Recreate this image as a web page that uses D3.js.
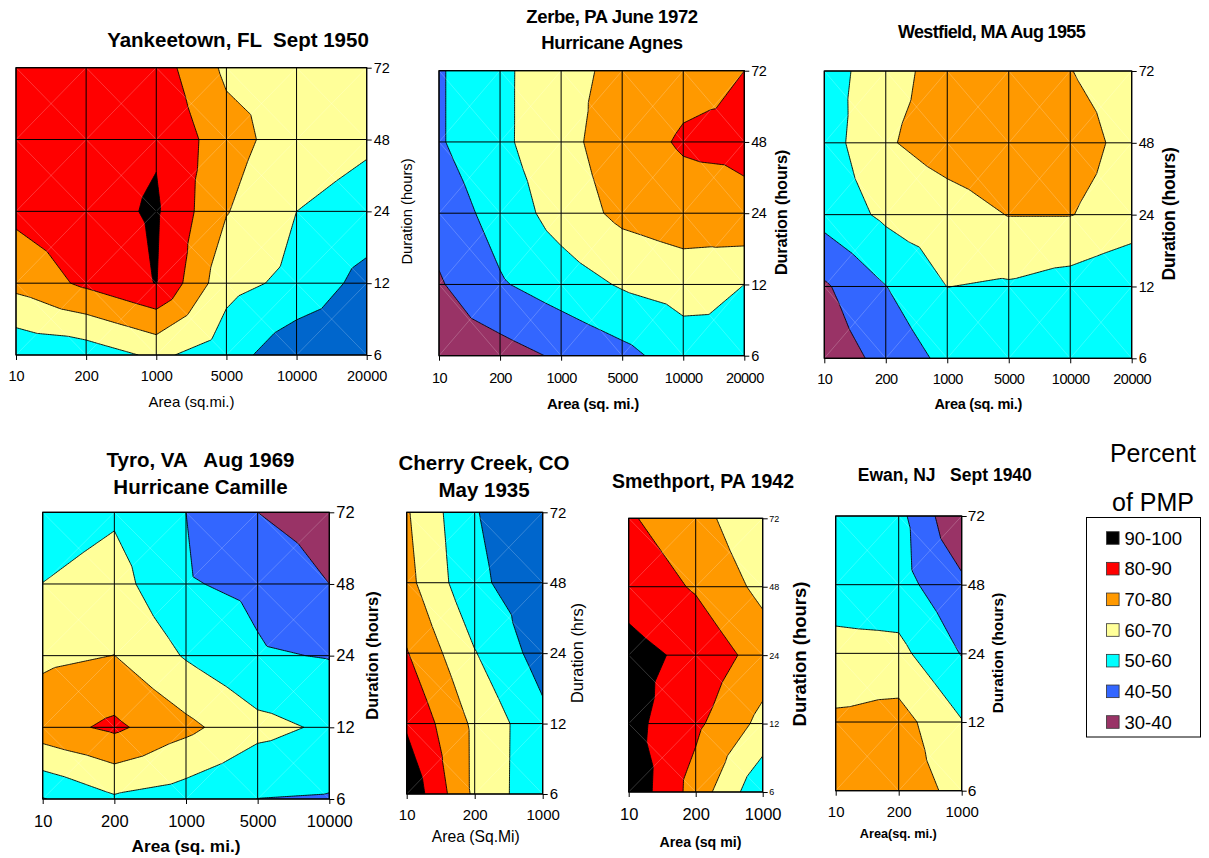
<!DOCTYPE html>
<html>
<head>
<meta charset="utf-8">
<script src="https://cdn.jsdelivr.net/npm/d3@7"></script>
<style>
body { margin: 0; background: #fff; }
text { font-family: "Liberation Sans", Arial, sans-serif; fill: #000; white-space: pre; }
</style>
</head>
<body>
<script>
// ---- data (percent of PMP at each area / duration grid point) ----
var durations = ["6", "12", "24", "48", "72"];
var areasLarge = ["10", "200", "1000", "5000", "10000", "20000"];
var areasTyro = ["10", "200", "1000", "5000", "10000"];
var areasSmall = ["10", "200", "1000"];
var thresholds = [30, 40, 50, 60, 70, 80, 90];
var legendLabels = ["90-100", "80-90", "70-80", "60-70", "50-60", "40-50", "30-40"];

// rows go 6h, 12h, 24h, 48h, 72h
var yankeetownPct = [
  [52, 54.2, 62, 54.5, 42.7, 41],
  [73, 82, 90.3, 63, 57.6, 46.3],
  [82.3, 86.4, 91.2, 70.5, 60, 56.6],
  [84, 86, 89, 74.2, 64.4, 61.3],
  [85, 86, 85, 68, 66, 64]
];
var zerbePct = [
  [34, 36, 41.5, 47, 55, 58],
  [39, 49, 55, 61, 64, 60],
  [44, 54, 64.2, 72.5, 76, 78.5],
  [49, 58, 66.5, 76, 81, 81.4],
  [49, 58, 66.3, 73, 77.2, 80]
];
var westfieldPct = [
  [34, 43, 52.7, 54, 54, 52],
  [38.7, 49.8, 60.1, 58.9, 55.9, 51],
  [53.7, 62, 65.7, 70.3, 70.3, 66],
  [55.2, 69, 74.3, 77, 74, 67.1],
  [55.4, 66, 74.3, 76, 70.2, 66]
];
var tyroPct = [
  [49.5, 58.5, 55, 49.9, 49.2],
  [76, 82, 72.5, 62.9, 58.4],
  [68, 70.1, 59.1, 51, 49.5],
  [60.1, 64, 50.7, 48, 40],
  [55, 58.6, 50, 40, 35]
];
var cherryCreekPct = [
  [98, 68, 52.3],
  [88.7, 67.9, 52.7],
  [80.6, 60.5, 45.7],
  [73, 52, 44],
  [71, 50.5, 43]
];
var smethportPct = [
  [97.6, 75.9, 52],
  [93.2, 82.1, 67.2],
  [93.5, 87.3, 75.7],
  [86, 79, 67.2],
  [81, 74, 61.1]
];
var ewanPct = [
  [75, 76, 66.6],
  [71.7, 73.9, 60.5],
  [63.3, 62.7, 49.5],
  [55, 53.7, 42.2],
  [55, 53, 30.5]
];

// colours for the bands 30-40 ... 90-100
var bandColors = ["#993366", "#3366FF", "#00FFFF", "#FFFF99", "#FF9900", "#FF0000", "#000000"];
var darkBlue = "#0066CC";

var svg = d3.select("body").append("svg")
  .attr("width", 1209)
  .attr("height", 858);

// value inside a cell, Excel style: each cell cut in 4 triangles round its centre
function triValue(g, u, v) {
  var nx = g[0].length, ny = g.length;
  var ci = Math.min(Math.floor(u), nx - 2), ri = Math.min(Math.floor(v), ny - 2);
  var fx = u - ci, fy = v - ri;
  var a = g[ri][ci], b = g[ri][ci + 1], c = g[ri + 1][ci + 1], d = g[ri + 1][ci];
  var m = (a + b + c + d) / 4;
  if (fy <= fx && fy <= 1 - fx) return a * (1 - fx - fy) + b * (fx - fy) + m * 2 * fy;
  if (fy >= fx && fy >= 1 - fx) return d * (fy - fx) + c * (fx + fy - 1) + m * 2 * (1 - fy);
  if (fx <= fy && fx <= 1 - fy) return a * (1 - fy - fx) + d * (fy - fx) + m * 2 * fx;
  return b * (fx - fy) + c * (fx + fy - 1) + m * 2 * (1 - fx);
}

function addText(parent, s, x, y, size, bold, opts) {
  opts = opts || {};
  var t = parent.append("text")
    .attr("x", x).attr("y", y)
    .attr("text-anchor", "middle")
    .attr("font-size", size)
    .attr("font-weight", bold ? "bold" : "normal")
    .attr("letter-spacing", opts.ls || 0)
    .text(s);
  if (opts.rotate) t.attr("transform", "rotate(-90," + x + "," + y + ")");
  return t;
}

var panelCount = 0;
function drawPanel(p) {
  panelCount++;
  var g = svg.append("g");
  var x = d3.scalePoint().domain(p.areas).range([p.x0, p.x1]);
  var y = d3.scalePoint().domain(durations).range([p.y1, p.y0]);

  var nx = p.areas.length, ny = durations.length, S = 40;
  var fx = (nx - 1) * S + 1, fy = (ny - 1) * S + 1;
  var grid = durations.map(function(d, i) { return p.pct[ny - 1 - i]; });
  var vals = new Array(fx * fy);
  for (var j = 0; j < fy; j++)
    for (var i = 0; i < fx; i++)
      vals[j * fx + i] = triValue(grid, i / S, j / S);

  var xs = d3.scaleLinear().domain([0.5, fx - 0.5]).range([p.x0, p.x1]);
  var ys = d3.scaleLinear().domain([0.5, fy - 0.5]).range([p.y0, p.y1]);
  var path = d3.geoPath(d3.geoTransform({
    point: function(a, b) { this.stream.point(xs(a), ys(b)); }
  }));
  var colors = bandColors.slice();
  if (p.blue) colors[1] = p.blue;

  var clipId = "clip" + panelCount;
  g.append("clipPath").attr("id", clipId).append("rect")
    .attr("x", p.x0).attr("y", p.y0)
    .attr("width", p.x1 - p.x0).attr("height", p.y1 - p.y0);

  var plot = g.append("g").attr("clip-path", "url(#" + clipId + ")");
  plot.append("rect")
    .attr("x", p.x0).attr("y", p.y0)
    .attr("width", p.x1 - p.x0).attr("height", p.y1 - p.y0)
    .attr("fill", colors[0]);

  var bands = d3.contours().size([fx, fy]).thresholds(thresholds)(vals);
  plot.selectAll("path.band")
    .data(bands)
    .join("path")
    .attr("class", "band")
    .attr("d", path)
    .attr("fill", function(d) { return colors[thresholds.indexOf(d.value)]; })
    .attr("stroke", "#000")
    .attr("stroke-width", 0.9)
    .attr("stroke-linejoin", "round");

  // faint diagonals of every cell
  var cells = [];
  for (var ci = 0; ci < nx - 1; ci++)
    for (var ri = 0; ri < ny - 1; ri++)
      cells.push([p.areas[ci], p.areas[ci + 1], durations[ri], durations[ri + 1]]);
  plot.selectAll("line.diag1").data(cells).join("line")
    .attr("x1", function(d) { return x(d[0]); }).attr("y1", function(d) { return y(d[2]); })
    .attr("x2", function(d) { return x(d[1]); }).attr("y2", function(d) { return y(d[3]); })
    .attr("stroke", "#fff").attr("stroke-opacity", 0.35).attr("stroke-width", 0.6);
  plot.selectAll("line.diag2").data(cells).join("line")
    .attr("x1", function(d) { return x(d[0]); }).attr("y1", function(d) { return y(d[3]); })
    .attr("x2", function(d) { return x(d[1]); }).attr("y2", function(d) { return y(d[2]); })
    .attr("stroke", "#fff").attr("stroke-opacity", 0.35).attr("stroke-width", 0.6);

  // grid lines
  g.selectAll("line.vgrid").data(p.areas).join("line")
    .attr("x1", function(d) { return x(d); }).attr("x2", function(d) { return x(d); })
    .attr("y1", p.y0).attr("y2", p.y1)
    .attr("stroke", "#000").attr("stroke-width", 1);
  g.selectAll("line.hgrid").data(durations).join("line")
    .attr("y1", function(d) { return y(d); }).attr("y2", function(d) { return y(d); })
    .attr("x1", p.x0).attr("x2", p.x1)
    .attr("stroke", "#000").attr("stroke-width", 1);
  g.append("rect")
    .attr("x", p.x0).attr("y", p.y0)
    .attr("width", p.x1 - p.x0).attr("height", p.y1 - p.y0)
    .attr("fill", "none").attr("stroke", "#000").attr("stroke-width", 1.2);

  // axes
  var xa = g.append("g").attr("transform", "translate(0," + p.y1 + ")")
    .call(d3.axisBottom(x).tickSize(5).tickPadding(p.xPad));
  xa.select(".domain").remove();
  xa.attr("font-family", null).attr("font-size", p.xFont);
  xa.selectAll("text").attr("letter-spacing", p.tickLs || 0);
  var ya = g.append("g").attr("transform", "translate(" + p.x1 + ",0)")
    .call(d3.axisRight(y).tickSize(5).tickPadding(p.yPad));
  ya.select(".domain").remove();
  ya.attr("font-family", null).attr("font-size", p.yFont);
  ya.selectAll("text").attr("letter-spacing", p.tickLs || 0);

  // titles
  p.title.forEach(function(t, k) {
    addText(g, t, p.titleX, p.titleY[k], p.titleSize, true, { ls: p.titleLs });
  });
  addText(g, p.xTitle, p.xTitleX, p.xTitleY, p.xTitleSize, p.axisBold, { ls: p.axisLs });
  addText(g, p.yTitle, p.yTitleX, p.yTitleY, p.yTitleSize, p.axisBold, { ls: p.axisLs, rotate: true });
}

drawPanel({
  pct: yankeetownPct, areas: areasLarge, blue: darkBlue,
  x0: 16, x1: 366.7, y0: 67.7, y1: 355,
  xFont: 14.5, yFont: 14.5, xPad: 11.2, yPad: 2,
  title: ["Yankeetown, FL  Sept 1950"], titleX: 238, titleY: [47], titleSize: 20.5,
  xTitle: "Area (sq.mi.)", xTitleX: 191.5, xTitleY: 406.5, xTitleSize: 15,
  yTitle: "Duration (hours)", yTitleX: 412, yTitleY: 211.5, yTitleSize: 14.7, axisBold: false
});
drawPanel({
  pct: zerbePct, areas: areasLarge,
  x0: 439, x1: 744.3, y0: 70.7, y1: 355.7,
  xFont: 14.5, yFont: 14.5, xPad: 12.2, yPad: 2, tickLs: -0.5,
  title: ["Zerbe, PA June 1972", "Hurricane Agnes"], titleX: 612, titleY: [22.7, 49.3], titleSize: 18.5, titleLs: -0.4,
  xTitle: "Area (sq. mi.)", xTitleX: 593, xTitleY: 409, xTitleSize: 15,
  yTitle: "Duration (hours)", yTitleX: 787, yTitleY: 212.5, yTitleSize: 16.4, axisBold: true, axisLs: -0.2
});
drawPanel({
  pct: westfieldPct, areas: areasLarge,
  x0: 824.3, x1: 1131.7, y0: 71, y1: 358.3,
  xFont: 14.5, yFont: 14.5, xPad: 10.4, yPad: 2, tickLs: -0.5,
  title: ["Westfield, MA Aug 1955"], titleX: 991.5, titleY: [38.3], titleSize: 18, titleLs: -0.65,
  xTitle: "Area (sq. mi.)", xTitleX: 978.3, xTitleY: 409.3, xTitleSize: 14.5, axisLs: -0.3,
  yTitle: "Duration (hours)", yTitleX: 1175, yTitleY: 214, yTitleSize: 17.6, axisBold: true
});
drawPanel({
  pct: tyroPct, areas: areasTyro,
  x0: 42.7, x1: 329.3, y0: 512.3, y1: 799,
  xFont: 16.5, yFont: 16.5, xPad: 11.3, yPad: 2,
  title: ["Tyro, VA   Aug 1969", "Hurricane Camille"], titleX: 200.5, titleY: [467.3, 494.3], titleSize: 20.5,
  xTitle: "Area (sq. mi.)", xTitleX: 186, xTitleY: 851.7, xTitleSize: 17.2,
  yTitle: "Duration (hours)", yTitleX: 378, yTitleY: 655.5, yTitleSize: 16.4, axisBold: true
});
drawPanel({
  pct: cherryCreekPct, areas: areasSmall, blue: darkBlue,
  x0: 406.7, x1: 542.7, y0: 512.3, y1: 794,
  xFont: 15, yFont: 15, xPad: 10.3, yPad: 2,
  title: ["Cherry Creek, CO", "May 1935"], titleX: 484, titleY: [470, 496.7], titleSize: 20.5,
  xTitle: "Area (Sq.Mi)", xTitleX: 475.8, xTitleY: 841.7, xTitleSize: 15.7,
  yTitle: "Duration (hrs)", yTitleX: 583, yTitleY: 653, yTitleSize: 16.4, axisBold: false
});
drawPanel({
  pct: smethportPct, areas: areasSmall,
  x0: 628.7, x1: 762.7, y0: 518.3, y1: 792,
  xFont: 16.5, yFont: 9, xPad: 11.3, yPad: 1.5,
  title: ["Smethport, PA 1942"], titleX: 703, titleY: [488.3], titleSize: 19.5,
  xTitle: "Area (sq mi)", xTitleX: 700.5, xTitleY: 846.7, xTitleSize: 14.2,
  yTitle: "Duration (hours)", yTitleX: 806, yTitleY: 654, yTitleSize: 18.5, axisBold: true
});
drawPanel({
  pct: ewanPct, areas: areasSmall,
  x0: 835.7, x1: 961.7, y0: 516, y1: 790.7,
  xFont: 15, yFont: 15.5, xPad: 10.6, yPad: 1,
  title: ["Ewan, NJ   Sept 1940"], titleX: 944.8, titleY: [481], titleSize: 17.5,
  xTitle: "Area(sq. mi.)", xTitleX: 898.3, xTitleY: 838, xTitleSize: 12.7,
  yTitle: "Duration (hours)", yTitleX: 1003, yTitleY: 653, yTitleSize: 15.4, axisBold: true
});

// legend
var legend = svg.append("g");
addText(legend, "Percent", 1153, 462, 25, false);
addText(legend, "of PMP", 1153, 511, 25, false);
legend.append("rect")
  .attr("x", 1086.5).attr("y", 517.5).attr("width", 114).attr("height", 219.5)
  .attr("fill", "#fff").attr("stroke", "#000").attr("stroke-width", 1);
var ly = d3.scalePoint().domain(legendLabels).range([538, 722]);
var items = legend.selectAll("g.item").data(legendLabels).join("g")
  .attr("class", "item")
  .attr("transform", function(d) { return "translate(0," + ly(d) + ")"; });
items.append("rect")
  .attr("x", 1106.5).attr("y", -6.3).attr("width", 12.6).attr("height", 12.6)
  .attr("fill", function(d, i) { return bandColors[bandColors.length - 1 - i]; })
  .attr("stroke", "#333").attr("stroke-width", 0.8);
items.append("text")
  .attr("x", 1124.5).attr("y", 0).attr("dy", "0.36em")
  .attr("font-size", 18.5)
  .text(function(d) { return d; });
</script>
</body>
</html>
